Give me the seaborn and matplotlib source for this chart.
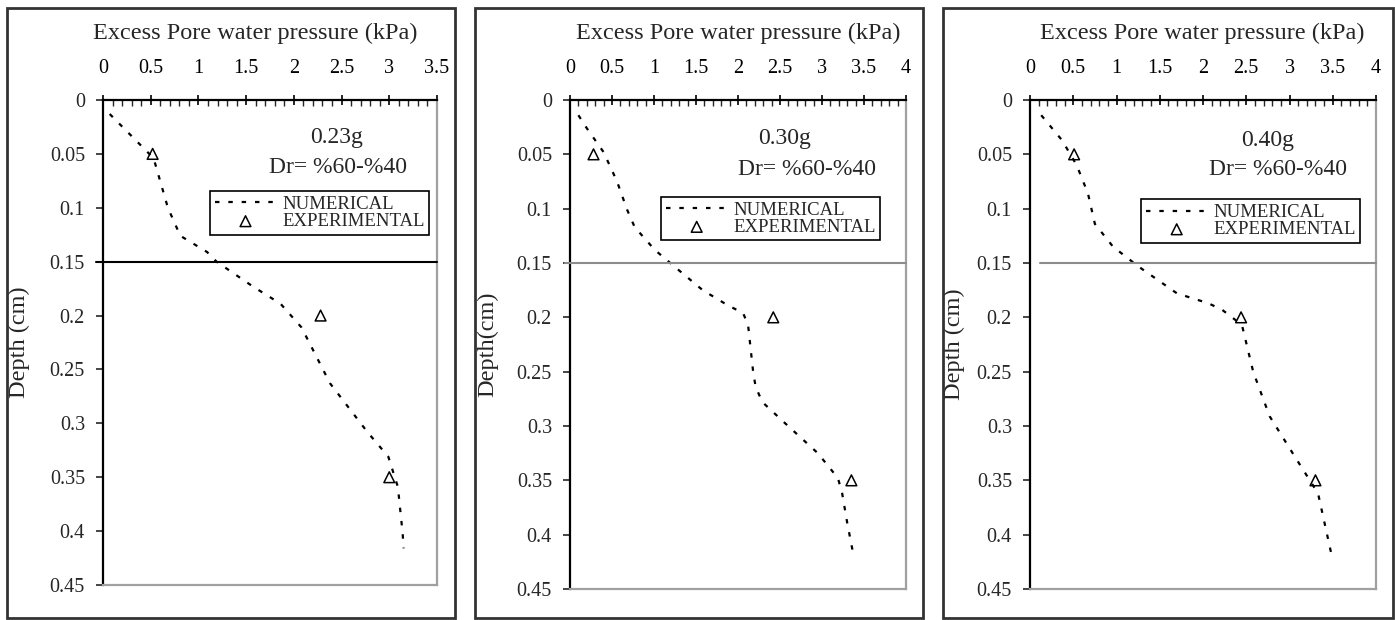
import matplotlib
matplotlib.use("Agg")
import matplotlib.pyplot as plt
import matplotlib.patches as mpatches
from matplotlib.ticker import MultipleLocator, FuncFormatter
import seaborn as sns
import pandas as pd

# ---------------- data ----------------
titles = ["0.23g", "0.30g", "0.40g"]
subtitle = "Dr= %60-%40"
xlabel = "Excess Pore water pressure (kPa)"
ylabels = ["Depth (cm)", "Depth(cm)", "Depth (cm)"]
xmax_vals = [3.5, 4.0, 4.0]

num1_p = [0.07, 0.53, 0.68, 0.81, 1.09, 1.19, 1.57, 1.86, 2.08, 2.38, 2.77, 2.99, 3.09, 3.14, 3.15]
num1_d = [0.013, 0.054, 0.100, 0.126, 0.141, 0.150, 0.173, 0.189, 0.211, 0.263, 0.308, 0.331, 0.359, 0.402, 0.416]

num2_p = [0.10, 0.20, 0.40, 0.56, 0.68, 0.77, 1.01, 1.27, 1.58, 1.88, 2.06, 2.12, 2.18, 2.21, 2.29, 2.54, 2.95, 3.19, 3.24, 3.30, 3.37]
num2_d = [0.014, 0.026, 0.048, 0.075, 0.101, 0.117, 0.138, 0.155, 0.175, 0.189, 0.196, 0.207, 0.250, 0.264, 0.278, 0.296, 0.325, 0.348, 0.362, 0.389, 0.417]

num3_p = [0.13, 0.37, 0.54, 0.67, 0.75, 0.96, 1.25, 1.70, 2.06, 2.22, 2.45, 2.58, 2.77, 3.06, 3.33, 3.49]
num3_d = [0.014, 0.037, 0.060, 0.086, 0.114, 0.135, 0.153, 0.178, 0.187, 0.193, 0.207, 0.250, 0.291, 0.328, 0.362, 0.420]

exp_d = [0.05, 0.20, 0.35]
exp1_p = [0.52, 2.28, 3.00]
exp2_p = [0.28, 2.42, 3.35]
exp3_p = [0.51, 2.44, 3.30]

layer_depth = 0.15

# ---------------- style ----------------
sns.set_style("white")
plt.rcParams["font.family"] = ["Liberation Serif", "DejaVu Serif"]

W, H = 1395, 620
fig = plt.figure(figsize=(W / 100, H / 100), dpi=100)

def fx(px):
    return px / W

def fy(py):
    return 1 - py / H

# axes boxes (left, top, right, bottom) in pixels
boxes = [(103, 100, 437, 585), (570, 100, 906, 589), (1030, 100, 1376, 589)]
outer = [(7, 8, 455, 618), (475, 8, 923, 618), (943, 8, 1393, 618)]
legend_anchor = [(0.32, 0.812), (0.271, 0.802), (0.321, 0.797)]
title_pos = [((0.70, 0.922), (0.704, 0.86)), ((0.64, 0.922), (0.705, 0.857)), ((0.688, 0.918), (0.717, 0.857))]
xlabel_x = [0.455, 0.50, 0.497]
ylabel_off = [73, 72, 65]
hline_style = [("black", -0.02), ("#8c8c8c", -0.015), ("#8c8c8c", 0.03)]

num_p = [num1_p, num2_p, num3_p]
num_d = [num1_d, num2_d, num3_d]
exp_p = [exp1_p, exp2_p, exp3_p]

def fmt(v, pos):
    s = f"{v:.2f}".rstrip("0").rstrip(".")
    return s

for i in range(3):
    # outer chart border
    l, t, r, b = outer[i]
    fig.patches.append(mpatches.Rectangle((fx(l), fy(b)), fx(r - l), (b - t) / H,
                                          transform=fig.transFigure, fill=False,
                                          edgecolor="#333333", linewidth=2.0))
    l, t, r, b = boxes[i]
    ax = fig.add_axes([fx(l), fy(b), fx(r - l), (b - t) / H])

    dfn = pd.DataFrame({"p": num_p[i], "d": num_d[i]})
    dfe = pd.DataFrame({"p": exp_p[i], "d": exp_d})

    sns.lineplot(data=dfn, x="p", y="d", sort=False, ax=ax, color="black",
                 linewidth=1.6, linestyle=(0, (2, 4)), label="NUMERICAL")
    sns.scatterplot(data=dfe, x="p", y="d", ax=ax, marker="^", s=60,
                    facecolor="none", edgecolor="black", linewidth=1.1,
                    label="EXPERIMENTAL", zorder=5)

    col, x0 = hline_style[i]
    ax.axhline(layer_depth, xmin=x0, xmax=1.0, color=col, linewidth=1.5, clip_on=False, zorder=3)

    ax.set_xlim(0, xmax_vals[i])
    ax.set_ylim(0.45, 0)
    ax.xaxis.set_major_locator(MultipleLocator(0.5))
    ax.xaxis.set_minor_locator(MultipleLocator(0.1))
    ax.yaxis.set_major_locator(MultipleLocator(0.05))
    ax.xaxis.set_major_formatter(FuncFormatter(fmt))
    ax.yaxis.set_major_formatter(FuncFormatter(fmt))
    ax.xaxis.tick_top()
    ax.xaxis.set_label_position("top")
    ax.tick_params(axis="x", which="major", direction="inout", length=7, width=1.2,
                   pad=12, labelsize=14.5, colors="black", top=True, bottom=False)
    ax.tick_params(axis="x", which="minor", direction="in", length=4, width=1.0,
                   top=True, bottom=False)
    ax.tick_params(axis="y", which="major", direction="out", length=5, width=1.2,
                   pad=8, labelsize=14.5, left=True)

    for s in ["top", "left"]:
        ax.spines[s].set_color("black")
        ax.spines[s].set_linewidth(1.6)
    for s in ["right", "bottom"]:
        ax.spines[s].set_color("#a0a0a0")
        ax.spines[s].set_linewidth(1.6)

    ax.set_xlabel("")
    ax.set_ylabel(ylabels[i], fontsize=17.5)
    ax.yaxis.set_label_coords(-ylabel_off[i] / (r - l), 0.5)
    ax.text(xlabel_x[i], 1 + 67 / (b - t), xlabel, transform=ax.transAxes,
            ha="center", va="center", fontsize=17.5)

    (tx, ty), (sx, sy) = title_pos[i]
    ax.text(tx, ty, titles[i], transform=ax.transAxes, ha="center", va="center", fontsize=17)
    ax.text(sx, sy, subtitle, transform=ax.transAxes, ha="center", va="center", fontsize=17)

    leg = ax.legend(loc="upper left", bbox_to_anchor=legend_anchor[i], borderaxespad=0,
                    frameon=True, fancybox=False, edgecolor="black", fontsize=13.5,
                    handlelength=3.3, handletextpad=0.3, labelspacing=0.0,
                    borderpad=0.25, framealpha=1)
    leg.get_frame().set_linewidth(1.2)
    ax.grid(False)

fig.savefig("out.png", dpi=100)
